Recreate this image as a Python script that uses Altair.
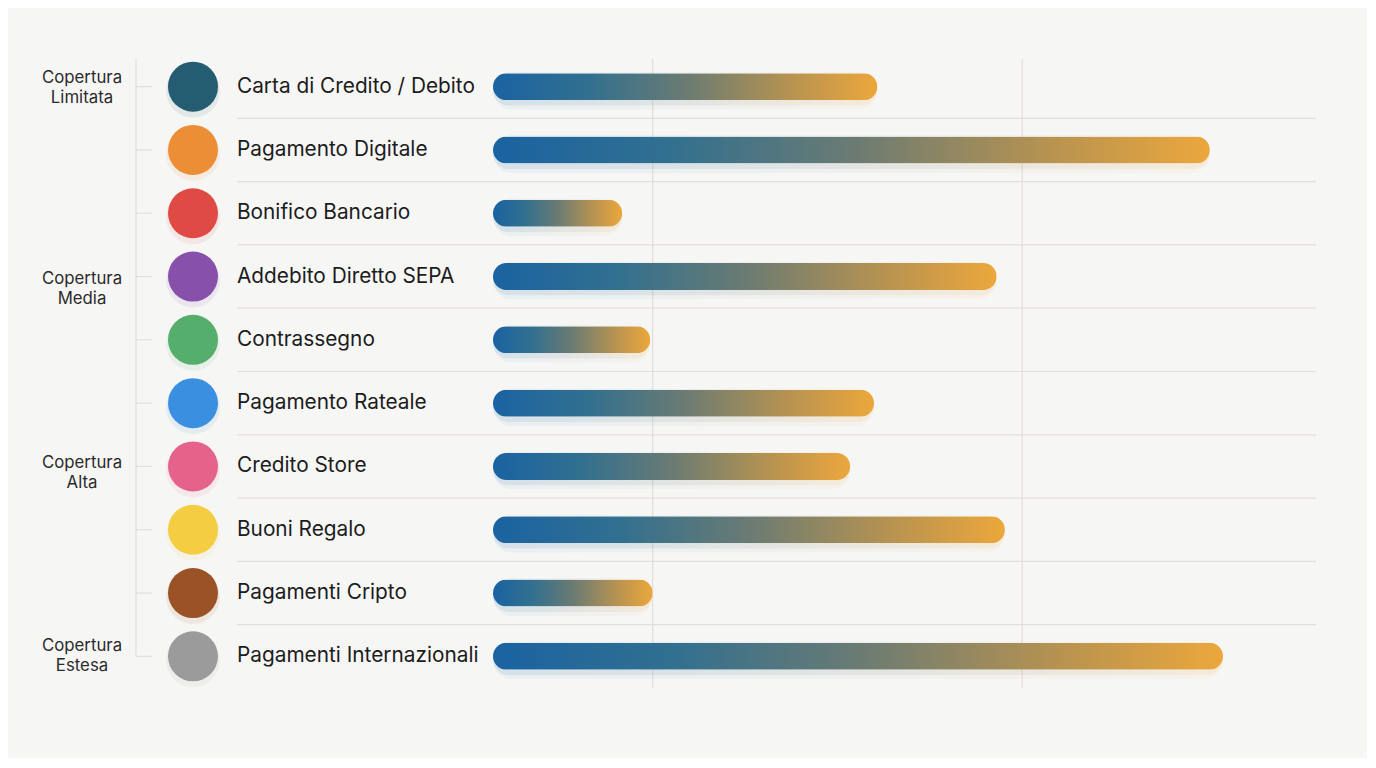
import altair as alt
import pandas as pd

# dati
metodi = ["Carta di Credito / Debito", "Pagamento Digitale", "Bonifico Bancario",
          "Addebito Diretto SEPA", "Contrassegno", "Pagamento Rateale", "Credito Store",
          "Buoni Regalo", "Pagamenti Cripto", "Pagamenti Internazionali"]
copertura = [46.7, 87.1, 15.7, 61.2, 19.1, 46.3, 43.4, 62.2, 19.4, 88.7]
colori = ["#245c71", "#ec8e36", "#e04a44", "#8750ab", "#55ae6b",
          "#3b8fe0", "#e5628b", "#f4cd42", "#9a5226", "#9b9b9b"]
gruppi = ["Copertura\nLimitata", "Copertura\nMedia", "Copertura\nAlta", "Copertura\nEstesa"]
gruppi_pos = [0, 3.18, 6.09, 8.98]
griglia = [19.4, 64.3]

righe = pd.DataFrame({"pos": list(range(len(metodi))), "metodo": metodi,
                      "valore": copertura, "colore": colori})
gruppi_df = pd.DataFrame({"pos": gruppi_pos, "gruppo": gruppi})
griglia_df = pd.DataFrame({"v": griglia})
uno = pd.DataFrame({"k": [0]})

FONT = "Inter"
LINEA = "#e4ded8"
y_scale = alt.Scale(domain=[-0.5, 9.5], reverse=True, nice=False, zero=False, padding=0)
y_pos = alt.Y("pos:Q", scale=y_scale, axis=None)
x_scale = alt.Scale(domain=[0, 100], nice=False, padding=0)

sfumatura = {
    "gradient": "linear", "x1": 0, "x2": 1, "y1": 0, "y2": 0,
    "stops": [{"offset": 0, "color": "#1a63a2"},
              {"offset": 0.25, "color": "#32708f"},
              {"offset": 0.5, "color": "#6a7b73"},
              {"offset": 0.78, "color": "#b89350"},
              {"offset": 1, "color": "#eca73c"}]}

# pannello sinistro: gruppi, cerchi, nomi
etichette_gruppi = alt.Chart(gruppi_df).mark_text(
    font=FONT, fontSize=16.8, color="#2b2b2b", align="center", baseline="middle",
    lineBreak="\n", lineHeight=20, dy=-9).encode(
    x=alt.value(74), y=y_pos, text="gruppo:N")

asse = alt.Chart(uno).transform_calculate(a="-0.45", b="9").mark_rule(
    color=LINEA, strokeWidth=1.2).encode(
    x=alt.value(128), y=alt.Y("a:Q", scale=y_scale, axis=None), y2="b:Q")

tacche = alt.Chart(righe).mark_rule(color=LINEA, strokeWidth=1.2).encode(
    x=alt.value(128), x2=alt.value(144), y=y_pos)

sep_sx = alt.Chart(righe).transform_filter("datum.pos < 9").transform_calculate(
    sep="datum.pos + 0.5").mark_rule(color=LINEA, strokeWidth=1.2).encode(
    x=alt.value(229), x2=alt.value(485), y=alt.Y("sep:Q", scale=y_scale, axis=None))

ombra_cerchi = alt.Chart(righe).mark_circle(size=2900, opacity=0.09, yOffset=4).encode(
    x=alt.value(185), y=y_pos, color=alt.Color("colore:N", scale=None))

cerchi = alt.Chart(righe).mark_circle(size=2500, opacity=1).encode(
    x=alt.value(185), y=y_pos, color=alt.Color("colore:N", scale=None))

nomi = alt.Chart(righe).mark_text(
    font=FONT, fontSize=20.8, color="#1c1c1c", align="left", baseline="middle").encode(
    x=alt.value(229), y=y_pos, text="metodo:N")

sinistra = alt.layer(etichette_gruppi, asse, tacche, sep_sx, ombra_cerchi, cerchi, nomi
                     ).properties(width=485, height=633)

# pannello destro: barre sfumate
sep_dx = alt.Chart(righe).transform_filter("datum.pos < 9").transform_calculate(
    sep="datum.pos + 0.5").mark_rule(color=LINEA, strokeWidth=1.2).encode(
    x=alt.value(0), x2=alt.value(823), y=alt.Y("sep:Q", scale=y_scale, axis=None))

linee_griglia = alt.Chart(griglia_df).transform_calculate(a="-0.44", b="9.5").mark_rule(
    color=LINEA, strokeWidth=1.2).encode(
    x=alt.X("v:Q", scale=x_scale, axis=None),
    y=alt.Y("a:Q", scale=y_scale, axis=None), y2="b:Q")

x_bar = alt.X("valore:Q", scale=x_scale, axis=None)

alone1 = alt.Chart(righe).mark_bar(orient="horizontal", size=38, cornerRadius=19,
                                   color=sfumatura, opacity=0.05, yOffset=4).encode(
    x=x_bar, y=y_pos)
alone2 = alt.Chart(righe).mark_bar(orient="horizontal", size=32, cornerRadius=16,
                                   color=sfumatura, opacity=0.10, yOffset=3).encode(
    x=x_bar, y=y_pos)
barre = alt.Chart(righe).mark_bar(orient="horizontal", size=27, cornerRadius=13.5,
                                  color=sfumatura).encode(x=x_bar, y=y_pos)

destra = alt.layer(sep_dx, linee_griglia, alone1, alone2, barre
                   ).properties(width=823, height=633)

chart = alt.hconcat(sinistra, destra, spacing=0, bounds="flush").properties(
    padding={"left": 0, "top": 47, "right": 50, "bottom": 69}
).configure(background="#f6f6f5").configure_view(strokeWidth=0)

chart.save("out.html", embed_options={"renderer": "svg", "actions": False})
